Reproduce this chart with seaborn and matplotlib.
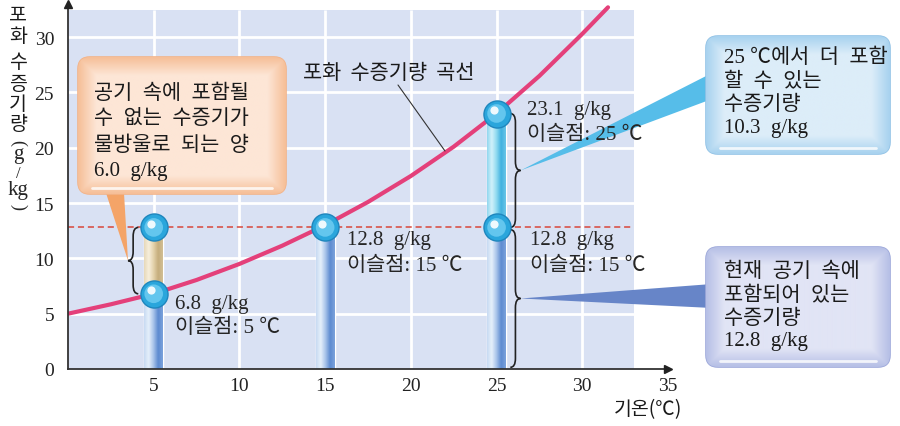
import numpy as np
import pandas as pd
import seaborn as sns
import matplotlib
matplotlib.use("Agg")
import matplotlib.pyplot as plt
from matplotlib.patches import FancyBboxPatch, Polygon, Rectangle, PathPatch
from matplotlib.path import Path
from matplotlib.colors import LinearSegmentedColormap

# ---------------- data ----------------
curve_temp = [0, 2.5, 5, 7.5, 10, 12.5, 15, 17.5, 20, 22.5, 25, 27.5, 30, 31.5]
curve_vapor = [5.0, 5.85, 6.8, 8.05, 9.5, 11.15, 13.0, 15.1, 17.45, 20.1, 23.1, 26.5, 30.3, 32.7]

bar_temp = [5, 15, 25]
sat_vapor = [6.8, 12.8, 23.1]        # saturation vapour at each temperature
actual_vapor = 12.8                   # water vapour actually in the air

x_ticks = [5, 10, 15, 20, 25, 30, 35]
y_ticks = [0, 5, 10, 15, 20, 25, 30]

dew_labels = ["6.8  g/kg\n이슬점: 5 ℃", "12.8  g/kg\n이슬점: 15 ℃", "12.8  g/kg\n이슬점: 15 ℃", "23.1  g/kg\n이슬점: 25 ℃"]
box_condense = ["공기  속에  포함될", "수  없는  수증기가", "물방울로  되는  양", "6.0  g/kg"]
box_more = ["25 ℃에서  더  포함", "할  수  있는", "수증기량", "10.3  g/kg"]
box_current = ["현재  공기  속에", "포함되어  있는", "수증기량", "12.8  g/kg"]
curve_label = "포화  수증기량  곡선"
x_label = "기온(℃)"
y_label_chars = ["포", "화", "수", "증", "기", "량"]

# ---------------- style ----------------
sns.set_theme(style="white")
KR = ["Noto Sans CJK KR", "DejaVu Sans"]
SERIF_KR = ["Liberation Serif", "Noto Sans CJK KR", "DejaVu Sans"]
plt.rcParams["font.family"] = SERIF_KR

W, H = 900, 427
fig = plt.figure(figsize=(9, 4.27), dpi=100)
fig.patch.set_facecolor("white")
ax = fig.add_axes([68 / W, 57 / H, 600 / W, 365 / H])
ax.set_facecolor("white")

XMAX, YMAX = 35, 33
BG_X, BG_Y = 33, 32.5

# background panel + grid
ax.add_patch(Rectangle((0, 0), BG_X, BG_Y, fc="#d9e1f3", ec="none", zorder=0))
for v in range(5, 35, 5):
    ax.plot([v, v], [0, BG_Y], color="white", lw=2, zorder=1, solid_capstyle="butt")
for h in range(5, 35, 5):
    ax.plot([0, BG_X], [h, h], color="white", lw=2, zorder=1, solid_capstyle="butt")

# dashed line for the current vapour amount
ax.plot([0, BG_X], [actual_vapor, actual_vapor], color="#d8473a", lw=1.1,
        ls=(0, (4, 2.5)), zorder=2)

# saturation curve
df_curve = pd.DataFrame({"temp": curve_temp, "vapor": curve_vapor})
sns.lineplot(data=df_curve, x="temp", y="vapor", ax=ax, color="#e4407a", lw=3,
             zorder=3, sort=False)


def gradient_patch(axis, patch, colors, z, horizontal=True):
    cmap = LinearSegmentedColormap.from_list("g", colors)
    x0, y0 = patch.get_x(), patch.get_y()
    w, h = patch.get_width(), patch.get_height()
    arr = np.linspace(0, 1, 256)[None, :] if horizontal else np.linspace(0, 1, 256)[:, None]
    im = axis.imshow(arr, extent=(x0, x0 + w, y0, y0 + h), cmap=cmap, aspect="auto",
                     zorder=z, interpolation="bicubic")
    im.set_clip_path(patch)


blue_grad = ["#c7daf2", "#e6f0fb", "#a9c4ea", "#5c8ad0", "#7da3dc"]
beige_grad = ["#e6d8b8", "#f7efdc", "#e4d3ac", "#c5ad7c", "#d2bf95"]
cyan_grad = ["#8fd6ee", "#d2f2fb", "#8fdaf0", "#3fb1df", "#6cc6e8"]

lower = [min(s, actual_vapor) for s in sat_vapor]
upper_h = [abs(actual_vapor - s) for s in sat_vapor]
bars_low = ax.bar(bar_temp, lower, width=1.1, color="#a9c4ea", zorder=4)
for p in bars_low:
    gradient_patch(ax, p, blue_grad, 4.1)
bars_up = ax.bar(bar_temp, upper_h, bottom=lower, width=1.1, color="#e4d3ac", zorder=4)
for p, s in zip(bars_up, sat_vapor):
    if p.get_height() > 0:
        gradient_patch(ax, p, beige_grad if s < actual_vapor else cyan_grad, 4.1)

# spheres
sph_x, sph_y = [], []
for t, s in zip(bar_temp, sat_vapor):
    sph_x.append(t); sph_y.append(s)
    if s != actual_vapor:
        sph_x.append(t); sph_y.append(actual_vapor)
sns.scatterplot(x=sph_x, y=sph_y, ax=ax, s=380, color="#2aa6dc", edgecolor="#1f86bd",
                linewidth=1.0, zorder=6)
sns.scatterplot(x=sph_x, y=sph_y, ax=ax, s=180, color="#63c6ee", edgecolor="none",
                linewidth=0, zorder=6.1)
ax.scatter([x - 0.17 for x in sph_x], [y + 0.3 for y in sph_y], s=35, color="white",
           alpha=0.9, zorder=6.2, linewidths=0)


def brace(axis, x_end, y0, y1, w, d=0.8):
    xl = x_end + w / 2
    xt = x_end + w
    ym = (y0 + y1) / 2
    verts = [(x_end, y1), (xl, y1), (xl, y1 - d), (xl, ym + d), (xl, ym), (xt, ym),
             (xl, ym), (xl, ym - d), (xl, y0 + d), (xl, y0), (x_end, y0)]
    codes = [Path.MOVETO, Path.CURVE3, Path.CURVE3, Path.LINETO, Path.CURVE3, Path.CURVE3,
             Path.CURVE3, Path.CURVE3, Path.LINETO, Path.CURVE3, Path.CURVE3]
    axis.add_patch(PathPatch(Path(verts, codes), fc="none", ec="#222222", lw=1.2, zorder=5))
    return xt, ym


tip_condense = brace(ax, 4.1, sat_vapor[0], actual_vapor, -0.6)
tip_more = brace(ax, 25.8, actual_vapor, sat_vapor[2], 0.6)
tip_current = brace(ax, 25.8, 0.15, actual_vapor - 0.2, 0.6)

ax.set_xlim(0, XMAX)
ax.set_ylim(0, YMAX)
ax.set_xticks(x_ticks)
ax.set_yticks(y_ticks)
ax.tick_params(length=0, labelsize=14, colors="#222222")
ax.tick_params(axis="x", pad=6)
ax.tick_params(axis="y", pad=10)
for lab in ax.get_xticklabels() + ax.get_yticklabels():
    lab.set_family("Liberation Serif")
ax.set_xlabel("")
ax.set_ylabel("")
for s in ["top", "right"]:
    ax.spines[s].set_visible(False)
for s in ["left", "bottom"]:
    ax.spines[s].set_color("#333333")
    ax.spines[s].set_linewidth(1.3)
    ax.spines[s].set_zorder(8)
ax.plot(1, 0, ">", color="#222222", ms=6, transform=ax.get_yaxis_transform(), clip_on=False, zorder=9)
ax.plot(0, 1, "^", color="#222222", ms=6, transform=ax.get_xaxis_transform(), clip_on=False, zorder=9)

# ---------------- overlay in pixel coordinates ----------------
ov = fig.add_axes([0, 0, 1, 1], zorder=10)
ov.set_xlim(0, W)
ov.set_ylim(H, 0)
ov.axis("off")
ov.patch.set_alpha(0)


def to_px(pt):
    d = ax.transData.transform(pt)
    return d[0], H - d[1]


def puffy_box(x0, y0, w, h, edge, center, ec, z=11):
    box = FancyBboxPatch((x0, y0), w, h, boxstyle="round,pad=0,rounding_size=12",
                         fc=center, ec=ec, lw=1.2, zorder=z)
    ov.add_patch(box)
    xx = np.linspace(0, 1, 200)[None, :]
    yy = np.linspace(0, 1, 120)[:, None]
    dx = np.minimum(xx, 1 - xx) * w
    dy = np.minimum(yy, 1 - yy) * h
    dist = np.clip(np.minimum(dx, dy) / 18.0, 0, 1)
    cmap = LinearSegmentedColormap.from_list("b", [edge, center])
    im = ov.imshow(dist, extent=(x0, x0 + w, y0 + h, y0), cmap=cmap, aspect="auto",
                   zorder=z + 0.1, interpolation="bilinear", vmin=0, vmax=1)
    im.set_clip_path(box)
    ov.plot([x0 + 14, x0 + w - 14], [y0 + h - 6, y0 + h - 6], color="white", lw=2,
            alpha=0.8, zorder=z + 0.2, solid_capstyle="round")


def box_text(x, ys, lines):
    for y, t in zip(ys, lines):
        ov.text(x, y, t, fontsize=15, va="center", ha="left", family=SERIF_KR,
                color="#1a1a1a", zorder=13)


# pointers
tx, ty = to_px(tip_condense)
ov.add_patch(Polygon([(106, 194), (124, 194), (tx, ty)], closed=True, fc="#f4a468", ec="none", zorder=10.5))
tx, ty = to_px(tip_more)
ov.add_patch(Polygon([(tx, ty), (712, 74), (712, 100)], closed=True, fc="#56bde9", ec="none", zorder=10.5))
tx, ty = to_px(tip_current)
ov.add_patch(Polygon([(tx, ty), (712, 285), (712, 309)], closed=True, fc="#6785c8", ec="none", zorder=10.5))

# dew point labels (x, first-line y, second-line y) in data units, drawn above the pointers
lab_pos = [(6.25, 5.9, 3.8), (16.3, 11.75, 9.4), (26.95, 11.75, 9.4), (26.8, 23.5, 21.2)]
for (lx, ly1, ly2), txt in zip(lab_pos, dew_labels):
    l1, l2 = txt.split("\n")
    px1 = to_px((lx, ly1))
    px2 = to_px((lx, ly2))
    ov.text(px1[0], px1[1], l1, fontsize=15, va="center", ha="left", family=SERIF_KR, zorder=13)
    ov.text(px2[0], px2[1], l2, fontsize=15, va="center", ha="left", family=SERIF_KR, zorder=13)

# boxes
puffy_box(78, 58, 208, 137, "#f6bf98", "#fde6d6", "#f2b48a")
box_text(94, [94, 120, 146, 172], box_condense)
puffy_box(706, 37, 184, 118, "#a8d2ef", "#dcedf9", "#93c3e6")
box_text(724, [58, 82, 105, 129], box_more)
puffy_box(706, 248, 184, 120, "#b6bfe6", "#e1e4f5", "#9ea9da")
box_text(724, [272, 296, 319, 342], box_current)

# curve label with leader line
ov.text(389, 73, curve_label, fontsize=15, ha="center", va="center", family=KR, color="#1a1a1a", zorder=13)
ov.plot([398, 445], [86, 152], color="#333333", lw=0.8, zorder=12)

# axis titles
ov.text(648, 410, x_label, fontsize=14, ha="center", va="center", family=KR, color="#1a1a1a")
ys = [15, 36, 63, 84, 104, 124]
for y, c in zip(ys, y_label_chars):
    ov.text(18, y, c, fontsize=14, ha="center", va="center", family=KR, color="#1a1a1a")
ov.text(18, 143, "(", fontsize=13, ha="center", va="center", rotation=-90, family=SERIF_KR)
ov.text(18, 155, "g", fontsize=15, ha="center", va="center", family=SERIF_KR)
ov.text(18, 174, "/", fontsize=12, ha="center", va="center", family=SERIF_KR)
ov.text(18, 191, "kg", fontsize=15, ha="center", va="center", family=SERIF_KR)
ov.text(18, 207, ")", fontsize=13, ha="center", va="center", rotation=-90, family=SERIF_KR)

fig.savefig("out.png", dpi=100)
